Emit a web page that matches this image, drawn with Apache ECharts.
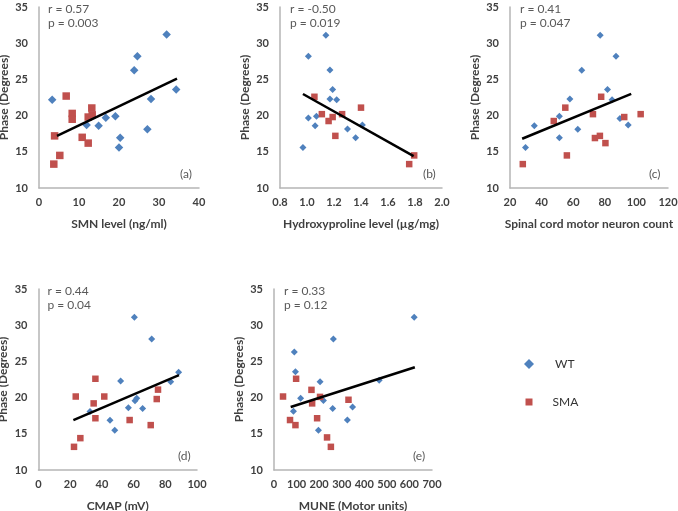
<!DOCTYPE html>
<html>
<head>
<meta charset="utf-8">
<script src="https://cdn.jsdelivr.net/npm/echarts@6/dist/echarts.min.js"></script>
<style>
  html, body { margin: 0; padding: 0; background: #fff; }
  #main { width: 678px; height: 511px; }
</style>
</head>
<body>
<div id="main"></div>
<script>
// phase vs. each measure, WT (diamonds) and SMA (squares)
var smnWT = [[3.3,22.2],[11.9,18.7],[14.9,18.6],[16.7,19.7],[19.1,19.9],[20.0,15.6],[20.3,16.95],[23.8,26.25],[24.6,28.2],[27.1,18.1],[28.0,22.3],[31.9,31.2],[34.3,23.6]];
var smnSMA = [[3.7,13.3],[3.9,17.2],[5.2,14.5],[6.8,22.7],[8.3,20.3],[8.3,19.5],[10.8,17.0],[12.3,16.2],[12.3,19.8],[13.2,21.05],[13.3,20.1]];
var smnTrend = [[4.5,17.2],[34.5,25.1]];

var hypWT = [[0.97,15.6],[1.01,19.67],[1.01,28.2],[1.14,31.1],[1.17,26.3],[1.19,23.6],[1.17,22.3],[1.22,22.2],[1.07,19.9],[1.06,18.6],[1.30,18.15],[1.36,16.95],[1.41,18.7]];
var hypSMA = [[1.055,22.6],[1.11,20.2],[1.16,19.25],[1.19,19.8],[1.26,20.2],[1.21,17.2],[1.40,21.1],[1.757,13.3],[1.794,14.5]];
var hypTrend = [[0.97,22.98],[1.79,14.4]];

var mnWT = [[29.8,15.6],[35.4,18.6],[51.25,19.9],[51.25,16.95],[57.9,22.3],[62.9,18.1],[65.4,26.25],[77.1,31.1],[81.7,23.6],[84.6,22.2],[87.1,28.2],[89.6,19.6],[94.8,18.7]];
var mnSMA = [[28.1,13.3],[47.7,19.25],[55.0,21.1],[56.0,14.5],[72.5,20.2],[73.75,16.9],[76.9,17.2],[77.7,22.6],[80.4,16.2],[92.3,19.8],[102.7,20.2]];
var mnTrend = [[27.7,16.8],[96.7,23.0]];

var cmapWT = [[32.5,18.07],[45.1,16.87],[48.1,15.5],[51.8,22.3],[56.7,18.6],[60.5,31.1],[60.9,19.55],[62.0,19.9],[65.7,18.5],[71.4,28.1],[83.4,22.2],[88.4,23.5]];
var cmapSMA = [[22.4,13.2],[23.5,20.15],[26.4,14.4],[34.8,19.2],[35.9,22.6],[35.9,17.15],[41.5,20.15],[57.5,16.9],[70.8,16.2],[74.6,19.8],[75.4,21.1]];
var cmapTrend = [[22.0,16.9],[88.6,23.1]];

var muneWT = [[621,31.1],[263,28.1],[90,26.3],[95,23.56],[204,22.2],[466,22.4],[118,19.9],[219,19.6],[86,18.1],[260,18.5],[348,18.7],[325,16.9],[197,15.5]];
var muneSMA = [[40,20.15],[98,22.6],[166,21.07],[204,20.1],[169,19.2],[330,19.7],[71,16.9],[95,16.2],[191,17.15],[235,14.5],[252,13.2]];
var muneTrend = [[74,18.7],[624,24.2]];

var xNames = ['SMN level (ng/ml)', 'Hydroxyproline level (\u00b5g/mg)', 'Spinal cord motor neuron count', 'CMAP (mV)', 'MUNE (Motor units)'];
var xMin = [0, 0.8, 20, 0, 0];
var xMax = [40, 2.0, 120, 100, 700];
var xStep = [10, 0.2, 20, 20, 100];
var rTexts = ['r = 0.57', 'r = -0.50', 'r = 0.41', 'r = 0.44', 'r = 0.33'];
var pTexts = ['p = 0.003', 'p = 0.019', 'p = 0.047', 'p = 0.04', 'p = 0.12'];
var tags = ['(a)', '(b)', '(c)', '(d)', '(e)'];

var panels = [
  { wt: smnWT, sma: smnSMA, trend: smnTrend },
  { wt: hypWT, sma: hypSMA, trend: hypTrend },
  { wt: mnWT, sma: mnSMA, trend: mnTrend },
  { wt: cmapWT, sma: cmapSMA, trend: cmapTrend },
  { wt: muneWT, sma: muneSMA, trend: muneTrend }
];

// plot boxes in px
var boxes = [
  { left: 39, top: 7, width: 160, height: 181 },
  { left: 280, top: 7, width: 162, height: 181 },
  { left: 510, top: 7, width: 158, height: 181 },
  { left: 38.5, top: 289, width: 158.5, height: 181 },
  { left: 274, top: 289, width: 158, height: 181 }
];
var font = 'Lato';
var blue = '#4f81bd';
var red = '#c0504d';

var chartDom = document.getElementById('main');
var myChart = echarts.init(chartDom, null, { renderer: 'canvas' });

var grids = [], xAxes = [], yAxes = [], series = [], graphics = [];
boxes.forEach(function (b, i) {
  grids.push({ left: b.left, top: b.top, width: b.width, height: b.height, containLabel: false, outerBoundsMode: 'none' });
  xAxes.push({
    type: 'value', gridIndex: i, min: xMin[i], max: xMax[i], interval: xStep[i],
    name: xNames[i], nameLocation: 'middle', nameGap: 30,
    nameTextStyle: { color: '#404040', fontWeight: 'bold', fontSize: 12, fontFamily: font },
    axisLine: { show: true, onZero: false, lineStyle: { color: '#b5b5b5', width: 1.5 } },
    axisTick: { show: false },
    splitLine: { show: false },
    axisLabel: {
      color: '#404040', fontWeight: 'bold', fontSize: 11, fontFamily: font, margin: 9,
      formatter: function (v) { return i === 1 ? v.toFixed(1) : String(v); }
    }
  });
  yAxes.push({
    type: 'value', gridIndex: i, min: 10, max: 35, interval: 5,
    name: 'Phase (Degrees)', nameLocation: 'middle', nameGap: 29,
    nameTextStyle: { color: '#404040', fontWeight: 'bold', fontSize: 12, fontFamily: font },
    axisLine: { show: true, onZero: false, lineStyle: { color: '#b5b5b5', width: 1.5 } },
    axisTick: { show: false },
    splitLine: { show: false },
    axisLabel: { color: '#404040', fontWeight: 'bold', fontSize: 11, fontFamily: font, margin: 11 }
  });
  var big = i === 0;
  series.push({
    name: 'WT', type: 'scatter', xAxisIndex: i, yAxisIndex: i, data: panels[i].wt,
    symbol: 'diamond', symbolSize: big ? 8.5 : 7, itemStyle: { color: blue, opacity: 1 }
  });
  series.push({
    name: 'SMA', type: 'scatter', xAxisIndex: i, yAxisIndex: i, data: panels[i].sma,
    symbol: 'rect', symbolSize: big ? 7.5 : 6.5, itemStyle: { color: red, opacity: 1 }
  });
  series.push({
    name: 'trend', type: 'line', xAxisIndex: i, yAxisIndex: i, data: panels[i].trend,
    symbol: 'none', lineStyle: { color: '#000', width: 2.5 }, z: 3
  });
  var tx = b.left + (i === 1 || i === 2 || i === 4 ? 10 : 9);
  graphics.push({ type: 'text', left: tx, top: b.top - 4, style: { text: rTexts[i], fill: '#595959', font: '12px ' + font } });
  graphics.push({ type: 'text', left: tx, top: b.top + 10, style: { text: pTexts[i], fill: '#595959', font: '12px ' + font } });
  graphics.push({ type: 'text', left: b.left + b.width - 19, top: b.top + b.height - 20, style: { text: tags[i], fill: '#595959', font: '12px ' + font } });
});

var option = {
  animation: false,
  backgroundColor: '#fff',
  grid: grids,
  xAxis: xAxes,
  yAxis: yAxes,
  legend: [
    {
      data: [{ name: 'WT', icon: 'diamond' }], left: 524, top: 358, padding: 0,
      itemWidth: 10, itemHeight: 10, selectedMode: false,
      textStyle: { color: '#333', fontSize: 12, fontFamily: font, padding: [0, 0, 0, 16] }
    },
    {
      data: [{ name: 'SMA', icon: 'rect' }], left: 525.5, top: 396, padding: 0,
      itemWidth: 7, itemHeight: 7, selectedMode: false,
      textStyle: { color: '#333', fontSize: 12, fontFamily: font, padding: [0, 0, 0, 15] }
    }
  ],
  graphic: graphics,
  series: series
};

option && myChart.setOption(option);
</script>
</body>
</html>
